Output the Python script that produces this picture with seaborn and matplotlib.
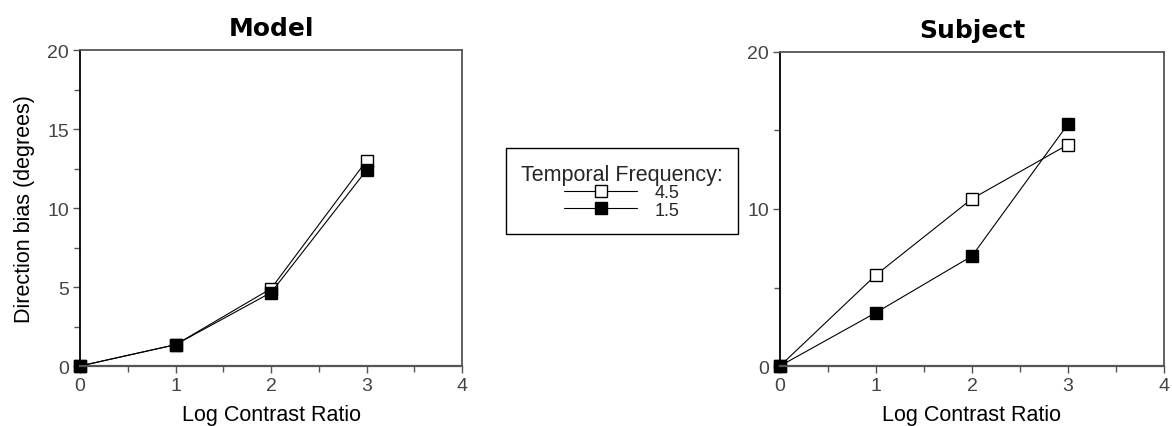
import numpy as np
import pandas as pd
import seaborn as sns
import matplotlib.pyplot as plt
from matplotlib.ticker import MultipleLocator

sns.set_theme(style="white")
plt.rcParams["font.family"] = ["Liberation Sans", "DejaVu Sans"]

# Data
log_contrast = [0, 1, 2, 3]
frequencies = ["4.5", "1.5"]
model_45 = [0.0, 1.35, 4.9, 13.0]
model_15 = [0.0, 1.35, 4.65, 12.4]
subject_45 = [0.0, 5.8, 10.65, 14.1]
subject_15 = [0.0, 3.4, 7.0, 15.4]

panels = [
    ("Model", {"4.5": model_45, "1.5": model_15}),
    ("Subject", {"4.5": subject_45, "1.5": subject_15}),
]

face = {"4.5": "white", "1.5": "black"}

fig = plt.figure(figsize=(11.72, 4.27), dpi=100)
ax_model = fig.add_axes([0.0683, 0.1405, 0.3260, 0.7400])
ax_subj = fig.add_axes([0.6655, 0.1405, 0.3276, 0.7354])

tick_color = "#444444"
spine_color = "#555555"

for ax, (title, series) in zip([ax_model, ax_subj], panels):
    frames = []
    for f in frequencies:
        frames.append(pd.DataFrame({"ratio": log_contrast, "bias": series[f], "freq": f}))
    df = pd.concat(frames, ignore_index=True)
    for f in frequencies:
        sns.lineplot(
            data=df[df["freq"] == f], x="ratio", y="bias", ax=ax,
            color="black", linewidth=0.8, marker="s", markersize=9,
            markerfacecolor=face[f], markeredgecolor="black", markeredgewidth=1.0,
            label=f, legend=False,
        )
    ax.set_xlim(0, 4)
    ax.set_ylim(0, 20)
    ax.xaxis.set_major_locator(MultipleLocator(1))
    ax.xaxis.set_minor_locator(MultipleLocator(0.5))
    if title == "Model":
        ax.yaxis.set_major_locator(MultipleLocator(5))
        ax.yaxis.set_minor_locator(MultipleLocator(2.5))
        ax.set_ylabel("Direction bias (degrees)", fontsize=15.5, color="black", labelpad=9)
    else:
        ax.yaxis.set_major_locator(MultipleLocator(10))
        ax.yaxis.set_minor_locator(MultipleLocator(5))
        ax.set_ylabel("")
    ax.set_xlabel("Log Contrast Ratio", fontsize=15.5, color="black", labelpad=7)
    ax.set_title(title, fontsize=18, fontweight="bold", family="DejaVu Sans",
                 color="black", pad=11)
    ax.tick_params(which="both", direction="out", color=spine_color, width=1.0,
                   bottom=True, left=True, top=False, right=False)
    ax.tick_params(which="major", length=5, labelsize=14, labelcolor=tick_color, pad=3)
    ax.tick_params(which="minor", length=4)
    for s in ax.spines.values():
        s.set_color(spine_color)
        s.set_linewidth(1.3)
    ax.spines["left"].set_color("black")
    ax.spines["bottom"].set_linewidth(1.6)
    for ln in ax.get_lines():
        ln.set_clip_on(False)

handles = ax_model.get_lines()[:2]
leg = fig.legend(
    handles, frequencies, title="Temporal Frequency:", loc="center",
    bbox_to_anchor=(622 / 1172, 1 - 192 / 427), frameon=True, fancybox=False,
    framealpha=1, edgecolor="black", fontsize=13, title_fontsize=15.5,
    handlelength=4.0, labelspacing=0.0, borderpad=0.85, handletextpad=1.0,
)
leg.get_frame().set_linewidth(1.0)

fig.savefig("out.png", dpi=100)
